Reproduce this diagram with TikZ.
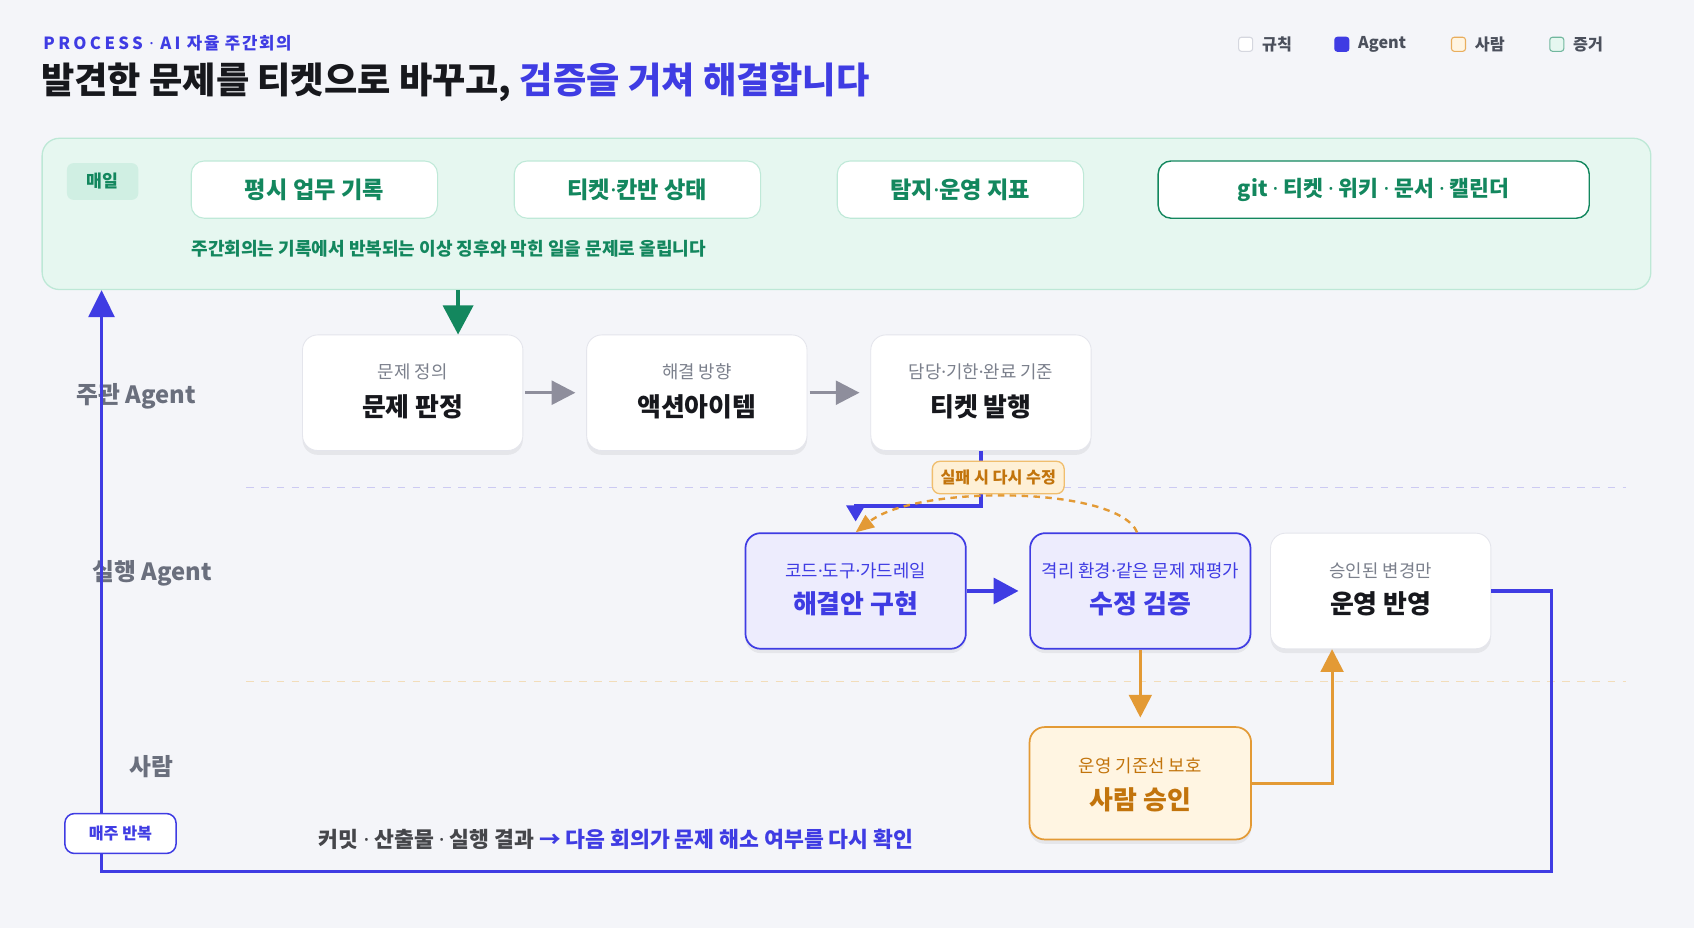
\documentclass[tikz,border=0pt]{standalone}
\usepackage{fontspec}
\setmainfont{Noto Sans CJK KR}
\newfontfamily\latinfont{Noto Sans}
\newcommand\mdot{{\latinfont\mbox{·}}}
\usepackage{xcolor}
\definecolor{pageBg}{HTML}{F4F5F9}
\definecolor{inkDark}{HTML}{17181D}
\definecolor{agentBlue}{HTML}{3F3CE3}
\definecolor{agentFill}{HTML}{EDECFD}
\definecolor{agentSep}{HTML}{CCCAF2}
\definecolor{evText}{HTML}{13875E}
\definecolor{evLine}{HTML}{BFE9D8}
\definecolor{panelFill}{HTML}{E6F7F0}
\definecolor{panelLine}{HTML}{BDE8D6}
\definecolor{tagFill}{HTML}{D0EFE3}
\definecolor{humanLine}{HTML}{E39A35}
\definecolor{humanFill}{HTML}{FFF5E2}
\definecolor{humanText}{HTML}{C2740C}
\definecolor{retryFill}{HTML}{FEF0D6}
\definecolor{retryLine}{HTML}{F0BE6E}
\definecolor{humanSep}{HTML}{F2DDBA}
\definecolor{grayArrow}{HTML}{8E8E9C}
\definecolor{laneText}{HTML}{6A6F7D}
\definecolor{subText}{HTML}{7B808C}
\definecolor{cardLine}{HTML}{E4E5EC}
\definecolor{legendText}{HTML}{4B505C}
\definecolor{ruleLine}{HTML}{D5D7DF}
\usetikzlibrary{arrows.meta,positioning,calc,shadows}
\tikzset{
  card/.style={rectangle,rounded corners=14pt,draw=cardLine,fill=white,line width=0.8pt,
    minimum width=204pt,minimum height=107pt,
    drop shadow={shadow xshift=0pt,shadow yshift=-4pt,opacity=0.06,fill=black}},
  cardagent/.style={card,draw=agentBlue,fill=agentFill,line width=1.6pt},
  cardhuman/.style={card,draw=humanLine,fill=humanFill,line width=1.6pt},
  cardsub/.style={font=\fontsize{16.5pt}{19pt}\selectfont,text=subText,inner sep=0pt},
  cardmain/.style={font=\fontsize{24pt}{28pt}\selectfont\bfseries,text=inkDark,inner sep=0pt},
  panel/.style={rectangle,rounded corners=16pt,draw=panelLine,fill=panelFill,line width=1.2pt,
    minimum width=1489pt,minimum height=140pt},
  tag/.style={rectangle,rounded corners=6pt,fill=tagFill,minimum width=66pt,minimum height=34pt,
    font=\fontsize{16pt}{18pt}\selectfont\bfseries,text=evText},
  evbox/.style={rectangle,rounded corners=12pt,draw=evLine,fill=white,line width=1pt,
    minimum width=228pt,minimum height=53pt,font=\fontsize{21.5pt}{25pt}\selectfont\bfseries,text=evText},
  evnote/.style={font=\fontsize{16.7pt}{19pt}\selectfont\bfseries,text=evText,inner sep=0pt},
  lanelabel/.style={font=\fontsize{22pt}{26pt}\selectfont\bfseries,text=laneText},
  lanesep/.style={line width=1.2pt,dash pattern=on 7pt off 7pt},
  legendsq/.style={rectangle,rounded corners=2.5pt,minimum size=13pt,inner sep=0pt,line width=1pt},
  legendtxt/.style={font=\fontsize{15pt}{17pt}\selectfont\bfseries,text=legendText,inner sep=0pt},
  grayarrow/.style={-{Triangle[length=22pt,width=22pt]},draw=grayArrow,line width=3pt,shorten >=10pt,shorten <=2pt},
  greenarrow/.style={-{Triangle[length=27pt,width=28pt]},draw=evText,line width=3pt},
  agentarrow/.style={-{Triangle[length=23pt,width=24pt]},draw=agentBlue,line width=3pt,shorten >=10pt},
  humanarrow/.style={-{Triangle[length=21pt,width=21pt]},draw=humanLine,line width=2.6pt},
  looparrow/.style={-{Triangle[length=25pt,width=24pt]},draw=agentBlue,line width=3pt},
  pilltag/.style={rectangle,rounded corners=9pt,fill=white,draw=agentBlue,line width=1.4pt,
    minimum width=103pt,minimum height=37pt,font=\fontsize{15pt}{18pt}\selectfont\bfseries,text=agentBlue},
  retrytag/.style={rectangle,rounded corners=7pt,fill=retryFill,draw=retryLine,line width=1.2pt,
    minimum width=122pt,minimum height=30pt,font=\fontsize{15pt}{17pt}\selectfont\bfseries,text=humanText,inner sep=2pt},
}
\begin{document}
\begin{tikzpicture}[x=1pt,y=-1pt]
  \fill[pageBg] (0,0) rectangle (1568,859);
  \useasboundingbox (0,0) rectangle (1568,859);

  % heading
  \node[anchor=west, inner sep=0pt, text=agentBlue, font=\fontsize{15.5pt}{17pt}\selectfont\bfseries] (kicker) at (40,40)
    {{\addfontfeature{LetterSpace=20}PROCESS\hspace{6pt}\mdot\hspace{6pt}AI}\hspace{6pt}{\addfontfeature{LetterSpace=10}자율 주간회의}};
  \node[anchor=west, inner sep=0pt, text=inkDark,
        font=\fontsize{33.5pt}{37pt}\selectfont\bfseries] (headline) at (38,76) {발견한 문제를 티켓으로 바꾸고, \textcolor{agentBlue}{검증을 거쳐 해결합니다}};

  % legend
  \node[legendsq, draw=ruleLine, fill=white] (lgrule) at (1153,41) {};
  \node[legendtxt, right=8pt of lgrule] (lgruletxt) {규칙};
  \node[legendsq, draw=agentBlue, fill=agentBlue] (lgagent) at (1242,41) {};
  \node[legendtxt, right=8pt of lgagent] (lgagenttxt) {Agent};
  \node[legendsq, draw=humanLine!80, fill=humanFill] (lghuman) at (1350,41) {};
  \node[legendtxt, right=8pt of lghuman] (lghumantxt) {사람};
  \node[legendsq, draw=evText!60, fill=panelFill] (lgproof) at (1441,41) {};
  \node[legendtxt, right=8pt of lgproof] (lgprooftxt) {증거};

  % daily evidence panel
  \node[panel] (daily) at (783.5,198) {};
  \node[tag] (dailytag) at (95,168) {매일};
  \node[evbox] (worklog) at (291,175.5) {평시 업무 기록};
  \node[evbox] (kanban) at (590,175.5) {티켓\mdot 칸반 상태};
  \node[evbox] (metrics) at (889,175.5) {탐지\mdot 운영 지표};
  \node[evbox, minimum width=399pt, draw=evText, line width=1.3pt, font=\fontsize{20pt}{24pt}\selectfont\bfseries] (sources) at (1271.5,175.5) {git \mdot{} 티켓 \mdot{} 위키 \mdot{} 문서 \mdot{} 캘린더};
  \node[evnote, anchor=west] (dailynote) at (177,230) {주간회의는 기록에서 반복되는 이상 징후와 막힌 일을 문제로 올립니다};

  % lanes
  \node[lanelabel] (lanelead) at (126,367) {주관 Agent};
  \node[lanelabel] (laneexec) at (141,531) {실행 Agent};
  \node[lanelabel] (lanehuman) at (140,710) {사람};
  \draw[lanesep, draw=agentSep] (228,451) -- (1505,451);
  \draw[lanesep, draw=humanSep] (228,631) -- (1505,631);

  % lead agent row
  \node[card] (judge) at (382,363.5) {};
  \node[cardsub] (judgesub) at ($(judge.center)+(0,-19)$) {문제 정의};
  \node[cardmain] (judgemain) at ($(judge.center)+(0,13)$) {문제 판정};
  \node[card] (action) at (645,363.5) {};
  \node[cardsub] (actionsub) at ($(action.center)+(0,-19)$) {해결 방향};
  \node[cardmain] (actionmain) at ($(action.center)+(0,13)$) {액션아이템};
  \node[card] (ticket) at (908,363.5) {};
  \node[cardsub] (ticketsub) at ($(ticket.center)+(0,-19)$) {담당\mdot 기한\mdot 완료 기준};
  \node[cardmain] (ticketmain) at ($(ticket.center)+(0,13)$) {티켓 발행};

  % execution agent row
  \node[cardagent] (impl) at (792,547) {};
  \node[cardsub, text=agentBlue] (implsub) at ($(impl.center)+(0,-19)$) {코드\mdot 도구\mdot 가드레일};
  \node[cardmain, text=agentBlue] (implmain) at ($(impl.center)+(0,12)$) {해결안 구현};
  \node[cardagent] (verify) at (1055.5,547) {};
  \node[cardsub, text=agentBlue] (verifysub) at ($(verify.center)+(0,-19)$) {격리 환경\mdot 같은 문제 재평가};
  \node[cardmain, text=agentBlue] (verifymain) at ($(verify.center)+(0,12)$) {수정 검증};
  \node[card] (deploy) at (1278,547) {};
  \node[cardsub] (deploysub) at ($(deploy.center)+(0,-19)$) {승인된 변경만};
  \node[cardmain] (deploymain) at ($(deploy.center)+(0,12)$) {운영 반영};

  % human row
  \node[cardhuman, minimum width=205pt, minimum height=104pt] (approve) at (1055.5,725) {};
  \node[cardsub, text=humanText] (approvesub) at ($(approve.center)+(0,-16)$) {운영 기준선 보호};
  \node[cardmain, text=humanText] (approvemain) at ($(approve.center)+(0,15)$) {사람 승인};

  % connectors
  \coordinate (dropx) at (424,0);
  \draw[greenarrow] (daily.south -| dropx) -- (judge.north -| dropx);
  \draw[grayarrow] (judge.east) -- (action.west);
  \draw[grayarrow] (action.east) -- (ticket.west);
  \draw[agentarrow, -{Triangle[length=15pt,width=17pt]}] (ticket.south) -- ++(0,51) -| (impl.north);
  \draw[humanLine, line width=2.2pt, dash pattern=on 6pt off 5pt, -{Triangle[length=17pt,width=14pt]}]
    ([xshift=-3pt]verify.north) .. controls (1035,450) and (850,448) .. (impl.north);
  \node[retrytag] (retry) at (924,442) {실패 시 다시 수정};
  \draw[agentarrow] (impl.east) -- (verify.west);
  \draw[humanarrow, shorten >=8pt] (verify.south) -- (approve.north);
  \draw[humanarrow] (approve.east) -| ([xshift=-45pt]deploy.south);

  % weekly loop
  \coordinate (loopbl) at (94,807);
  \draw[looparrow] (deploy.east) -- ++(56,0) |- (loopbl) -- (loopbl |- daily.south);
  \node[pilltag] (weekly) at (111.5,771.5) {매주 반복};
  \node[anchor=west, inner sep=0pt, font=\fontsize{20pt}{24pt}\selectfont\bfseries, text=inkDark!80] (feedback) at (295,777)
    {커밋 \mdot{} 산출물 \mdot{} 실행 결과 \textcolor{agentBlue}{→ 다음 회의가 문제 해소 여부를 다시 확인}};
\end{tikzpicture}
\end{document}
